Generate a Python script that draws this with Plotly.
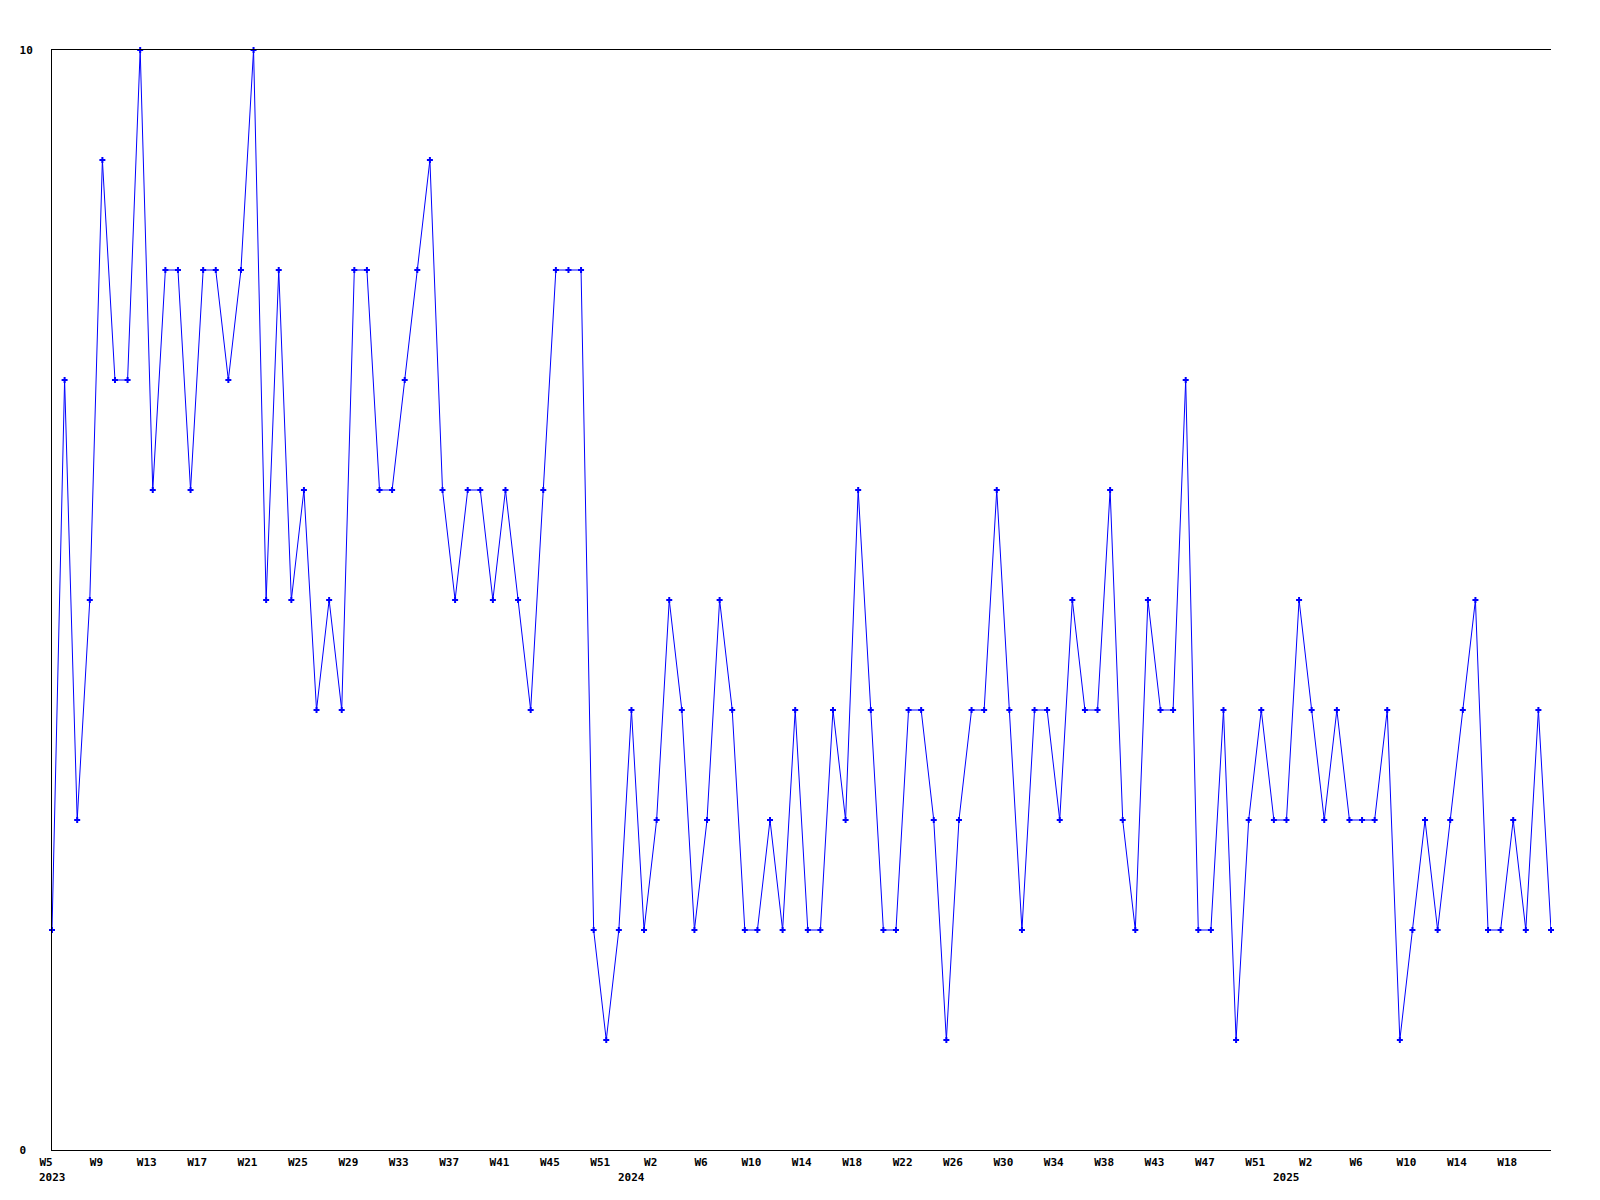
import plotly.graph_objects as go

# Weekly values (one point per reported week)
values = [2, 7, 3, 5, 9, 7, 7, 10, 6, 8, 8, 6, 8, 8, 7, 8, 10, 5, 8, 5,
          6, 4, 5, 4, 8, 8, 6, 6, 7, 8, 9, 6, 5, 6, 6, 5, 6, 5, 4, 6,
          8, 8, 8, 2, 1, 2, 4, 2, 3, 5, 4, 2, 3, 5, 4, 2, 2, 3, 2, 4,
          2, 2, 4, 3, 6, 4, 2, 2, 4, 4, 3, 1, 3, 4, 4, 6, 4, 2, 4, 4,
          3, 5, 4, 4, 6, 3, 2, 5, 4, 4, 7, 2, 2, 4, 1, 3, 4, 3, 3, 5,
          4, 3, 4, 3, 3, 3, 4, 1, 2, 3, 2, 3, 4, 5, 2, 2, 3, 2, 4, 2]

# Week tick labels (every 4th point) and the year each belongs to
week_labels = ["W5", "W9", "W13", "W17", "W21", "W25", "W29", "W33", "W37", "W41",
               "W45", "W51", "W2", "W6", "W10", "W14", "W18", "W22", "W26", "W30",
               "W34", "W38", "W43", "W47", "W51", "W2", "W6", "W10", "W14", "W18"]
week_years = [2023] * 12 + [2024] * 13 + [2025] * 5

y_ticks = [0, 10]
y_labels = ["0\u00a0", "10"]

TICK_STEP = 4
n = len(values)
xs = list(range(n))
tick_pos = [i * TICK_STEP for i in range(len(week_labels))]

FONT = dict(family="DejaVu Sans Mono", size=11, color="black")

fig = go.Figure()
fig.add_trace(go.Scatter(
    x=xs, y=values, mode="lines+markers",
    line=dict(color="#0000ff", width=1),
    marker=dict(symbol="cross", size=5, color="#0000ff", line=dict(width=0)),
    cliponaxis=False, showlegend=False, hoverinfo="y",
))

# Year labels: first year at its first tick, later years midway between year change
annotations = []
for k, yr in enumerate(week_years):
    if k == 0:
        pos = tick_pos[0]
    elif yr != week_years[k - 1]:
        pos = (tick_pos[k - 1] + tick_pos[k]) / 2
    else:
        continue
    annotations.append(dict(
        x=pos, xref="x", y=0, yref="paper", yshift=-27, text="<b>%d</b>" % yr,
        showarrow=False, font=FONT, xanchor="center", yanchor="middle",
    ))

# The page body has an 8px default margin, so the figure is sized to fit inside it
fig.update_layout(
    width=1584, height=1180,
    margin=dict(l=42, r=41, t=42, b=38),
    paper_bgcolor="white", plot_bgcolor="white",
    font=FONT,
    annotations=annotations,
    xaxis=dict(
        range=[0, n - 1], showgrid=False, zeroline=False,
        showline=True, linecolor="black", linewidth=1, mirror=True,
        tickmode="array", tickvals=tick_pos,
        ticktext=["<b>%s</b>" % t for t in week_labels],
        ticks="", ticklabelshift=-6, ticklabelstandoff=2,
        tickfont=FONT,
    ),
    yaxis=dict(
        range=[0, 10], showgrid=False, zeroline=False,
        showline=True, linecolor="black", linewidth=1, mirror=False,
        tickmode="array", tickvals=y_ticks,
        ticktext=["<b>%s</b>" % t for t in y_labels],
        ticks="", ticklabelstandoff=16, tickfont=FONT,
    ),
)

fig.write_html("out.html")
